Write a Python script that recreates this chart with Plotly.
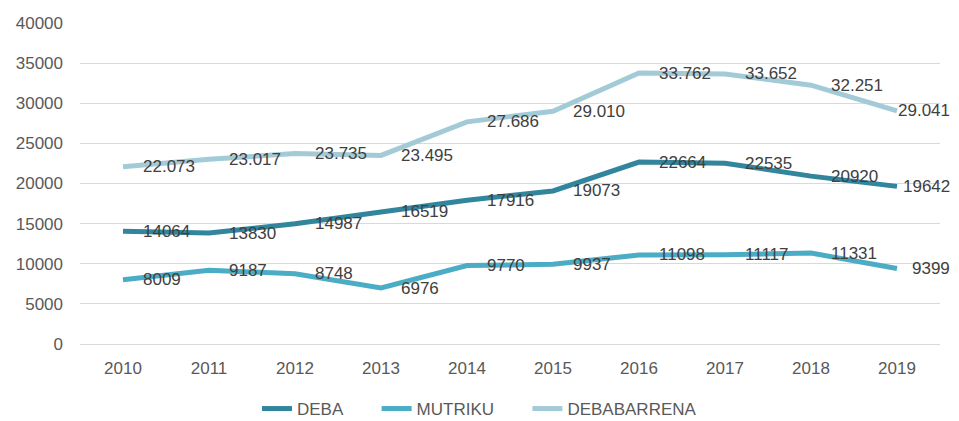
import plotly.graph_objects as go

# Data
years = ["2010", "2011", "2012", "2013", "2014", "2015", "2016", "2017", "2018", "2019"]
deba = [14064, 13830, 14987, 16519, 17916, 19073, 22664, 22535, 20920, 19642]
mutriku = [8009, 9187, 8748, 6976, 9770, 9937, 11098, 11117, 11331, 9399]
debabarrena = [22073, 23017, 23735, 23495, 27686, 29010, 33762, 33652, 32251, 29041]

y_ticks = [0, 5000, 10000, 15000, 20000, 25000, 30000, 35000, 40000]

_DEBA = "#31859c"
_MUTRIKU = "#4bacc6"
_DEBABARRENA = "#a3cbd7"
_TEXT = "#404040"
_TICK = "#595959"
_GRID = "#d9d9d9"
_FONT = "Liberation Sans, Arial, sans-serif"
_PAD = "\u00a0" * 6   # extra room between legend entries


def _dots(v):
    return f"{v:,}".replace(",", ".")


series = [
    ("DEBA", deba, _DEBA, str, _PAD),
    ("MUTRIKU", mutriku, _MUTRIKU, str, _PAD),
    ("DEBABARRENA", debabarrena, _DEBABARRENA, _dots, ""),
]

fig = go.Figure()
annotations = []
last = len(years) - 1
for name, values, color, fmt, pad in series:
    fig.add_trace(go.Scatter(
        x=years, y=values, mode="lines", name=name + pad,
        line=dict(color=color, width=5),
    ))
    for i, v in enumerate(values):
        # labels sit right of the point; the last column is kept inside the chart
        annotations.append(dict(
            x=i, y=v, xref="x", yref="y", text=fmt(v), showarrow=False,
            xanchor="right" if i == last else "left", yanchor="middle",
            xshift=55 if i == last else 18,
            font=dict(size=17, color=_TEXT, family=_FONT),
        ))

# page body has an 8px margin, so the figure is a bit smaller than the window
fig.update_layout(
    width=951, height=413,
    paper_bgcolor="white", plot_bgcolor="white",
    margin=dict(l=72, r=19, t=15, b=77, autoexpand=False),
    font=dict(family=_FONT, color=_TICK, size=17),
    annotations=annotations,
    showlegend=True,
    legend=dict(
        orientation="h", x=0.4645, xanchor="center",
        y=-0.2025, yanchor="middle",
        bgcolor="rgba(0,0,0,0)",
        font=dict(size=17, color=_TICK),
        traceorder="normal",
    ),
    xaxis=dict(
        type="category", range=[-0.5, 9.5],
        showgrid=False, showline=False, zeroline=False,
        ticks="", ticklabelstandoff=12, tickangle=0,
        tickfont=dict(size=17, color=_TICK),
    ),
    yaxis=dict(
        range=[0, 40000], tickvals=y_ticks,
        ticktext=[str(t) for t in y_ticks],
        gridcolor=_GRID, gridwidth=1,
        zeroline=True, zerolinecolor=_GRID, zerolinewidth=1,
        showline=False, ticks="", ticklabelstandoff=16,
        tickfont=dict(size=17, color=_TICK),
    ),
)

fig.write_html("out.html")
